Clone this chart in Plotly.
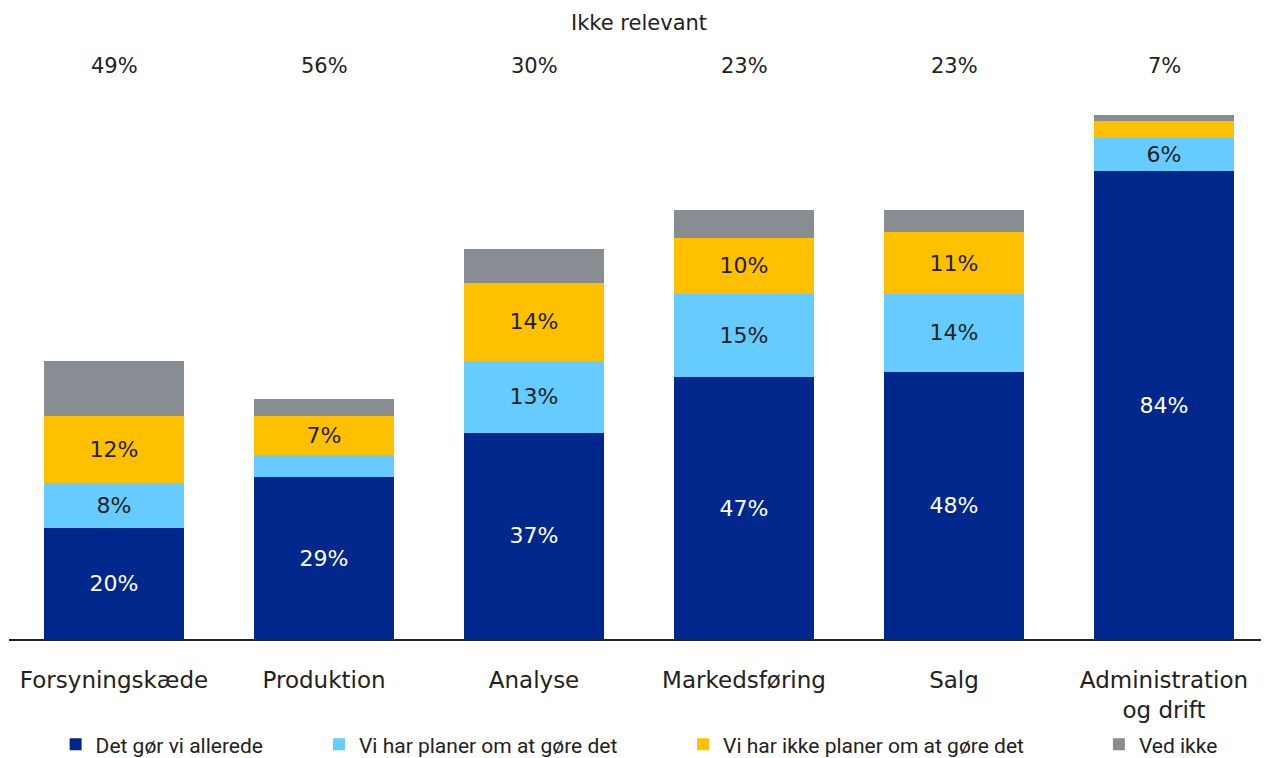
import plotly.graph_objects as go

categories = ["Forsyningskæde", "Produktion", "Analyse", "Markedsføring", "Salg", "Administration<br>og drift"]
series_names = ["Det gør vi allerede", "Vi har planer om at gøre det", "Vi har ikke planer om at gøre det", "Ved ikke"]
det_goer = [20, 29, 37, 47, 48, 84]
planer = [8, 4, 13, 15, 14, 6]
ikke_planer = [12, 7, 14, 10, 11, 3]
ved_ikke = [10, 3, 6, 5, 4, 1]
ikke_relevant = [49, 56, 30, 23, 23, 7]

colors = ["#00288C", "#66CCFF", "#FFC000", "#878D93"]
text_colors = ["white", "#222222", "#222222", "#222222"]
series = [det_goer, planer, ikke_planer, ved_ikke]
show_min = [0, 6, 6, 1000]
legend_x = [0.037, 0.246, 0.535, 0.865]
legend_ids = ["legend", "legend2", "legend3", "legend4"]

MAIN = "DejaVu Sans"
LEG = "Roboto, sans-serif"
fig = go.Figure()
for name, vals, col, tc, mn, lid in zip(series_names, series, colors, text_colors, show_min, legend_ids):
    fig.add_trace(go.Bar(
        x=categories, y=vals, name=name, marker=dict(color=col, line=dict(width=0)),
        text=[f"{v}%" if v >= mn else "" for v in vals],
        textposition="inside", insidetextanchor="middle", textangle=0,
        textfont=dict(color=tc, size=22, family=MAIN),
        hoverinfo="skip", legend=lid,
    ))

for c, v in zip(categories, ikke_relevant):
    fig.add_annotation(x=c, y=1.054, xref="x", yref="paper", text=f"{v}%", showarrow=False,
                       font=dict(size=21, color="#222222", family=MAIN))
fig.add_annotation(x=0.5, y=1.131, xref="paper", yref="paper", text="Ikke relevant", showarrow=False,
                   font=dict(size=21, color="#222222", family=MAIN))

legend_common = dict(orientation="h", yanchor="top", y=-0.153, xanchor="left",
                     font=dict(size=21, color="#222222", family=LEG), itemwidth=30,
                     bgcolor="rgba(0,0,0,0)")
layout_legends = {lid: dict(legend_common, x=lx) for lid, lx in zip(legend_ids, legend_x)}

fig.update_layout(
    barmode="stack", bargap=0.333,
    width=1261, height=750,
    margin=dict(l=1, r=0, t=74, b=119, autoexpand=False),
    plot_bgcolor="white", paper_bgcolor="white",
    uniformtext=dict(mode=False),
    showlegend=True,
    font=dict(family=MAIN, color="#222222"),
    **layout_legends,
)
fig.update_xaxes(showline=True, linecolor="#222222", linewidth=1.5, ticks="",
                 ticklabelstandoff=20,
                 tickfont=dict(size=23, color="#222222", family=MAIN))
fig.update_yaxes(range=[0, 100], visible=False, showgrid=False)
fig.write_html("out.html")
